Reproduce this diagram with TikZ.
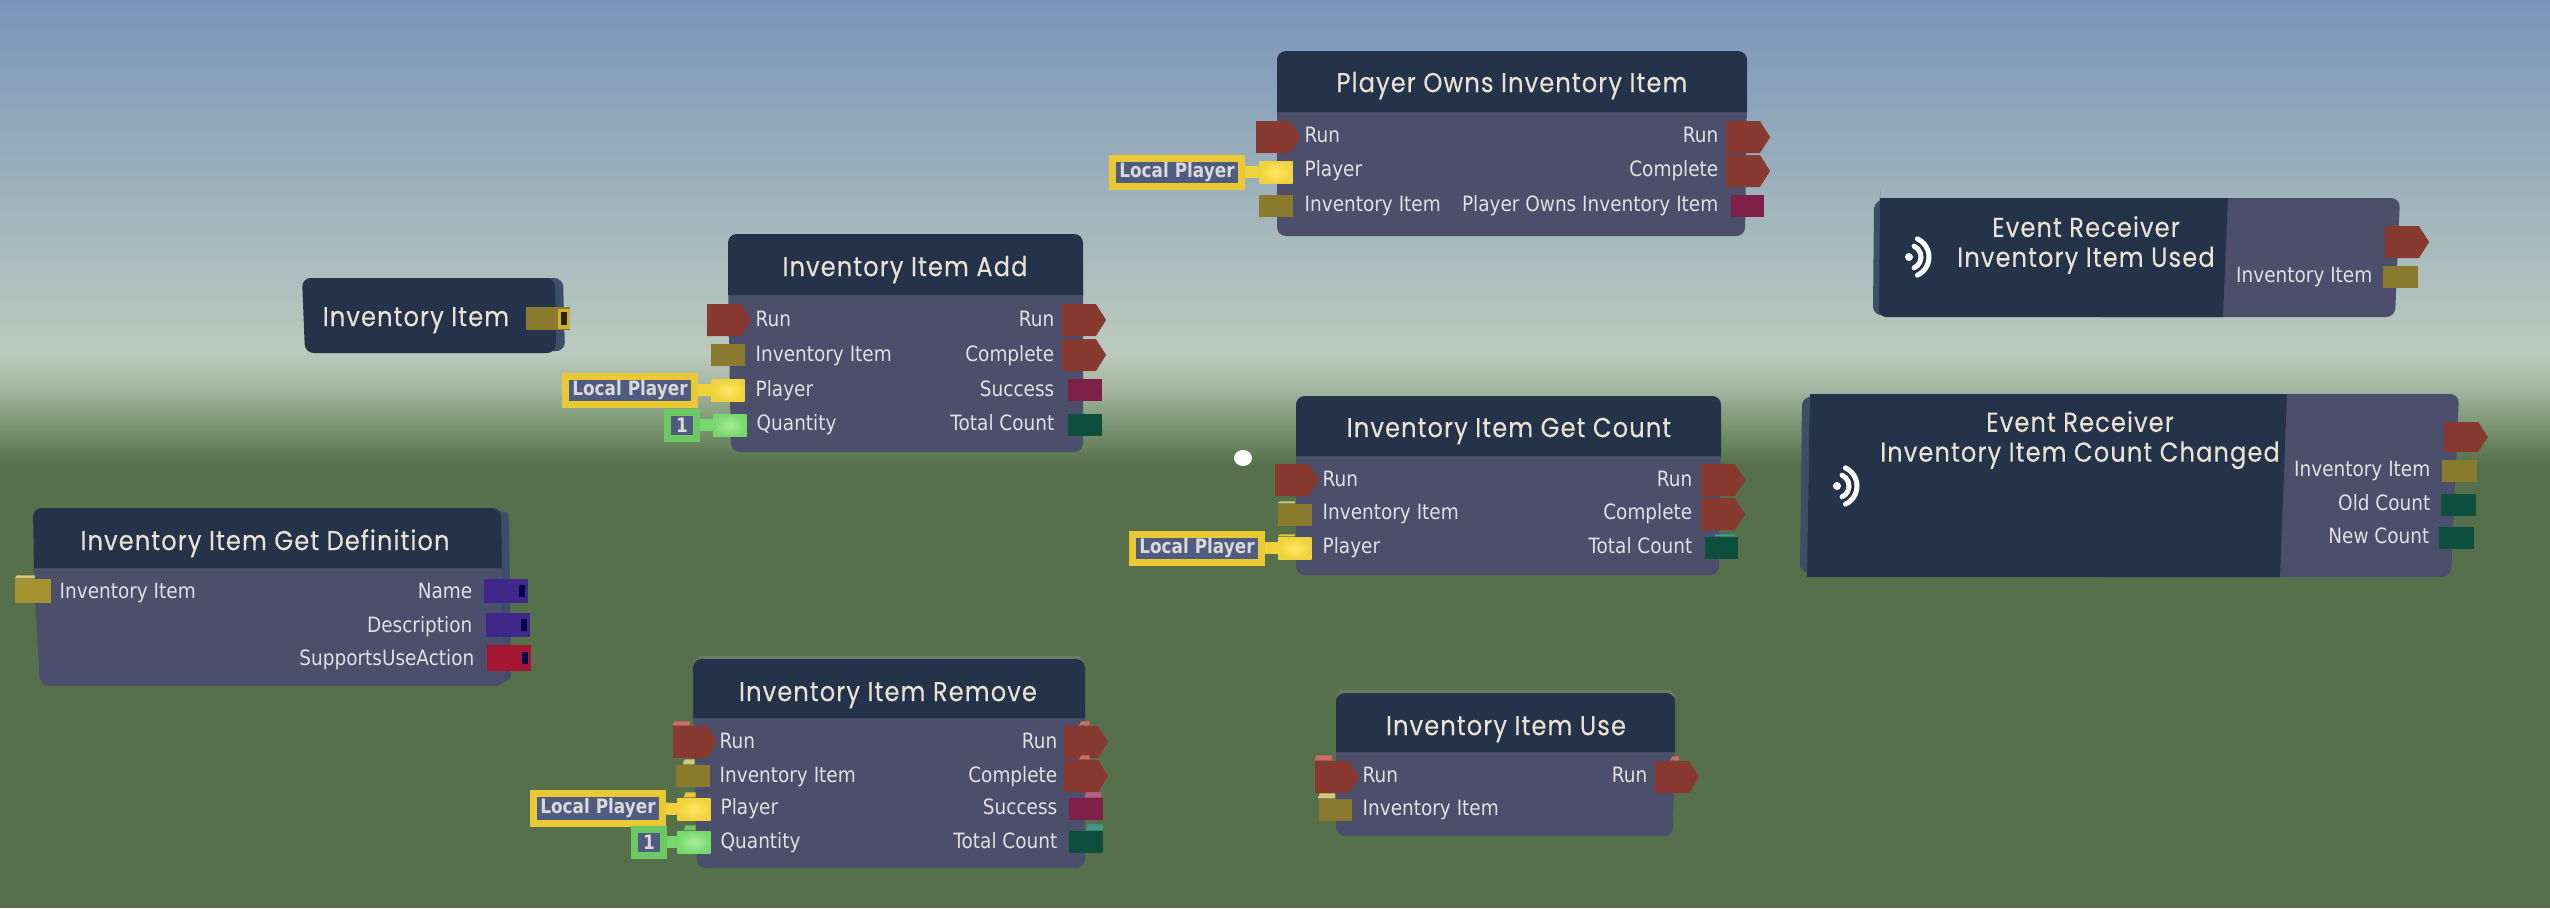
\documentclass[tikz,border=0pt]{standalone}
\usepackage{fontspec}
\usetikzlibrary{shapes.symbols,shapes.geometric,calc}
\newfontfamily\headfont[FakeStretch=0.88,LetterSpace=4,FakeBold=0.25]{Poppins}
\newfontfamily\portfont[FakeStretch=0.875]{DejaVu Sans}
\newfontfamily\chipfont[FakeStretch=0.85]{DejaVu Sans}
\definecolor{skytop}{HTML}{7A95BB}
\definecolor{skypale}{HTML}{BBCABD}
\definecolor{skylow}{HTML}{A3B5A0}
\definecolor{skymid}{HTML}{7F9A76}
\definecolor{ground}{HTML}{55704A}
\definecolor{headblue}{HTML}{24324A}
\definecolor{sideblue}{HTML}{3C4E68}
\definecolor{panelgrey}{HTML}{4B4F6B}
\definecolor{cream}{HTML}{E9E2D2}
\definecolor{execred}{HTML}{883A30}
\definecolor{execlit}{HTML}{D26A66}
\definecolor{itemolive}{HTML}{8A7A2E}
\definecolor{itemlit}{HTML}{D6C878}
\definecolor{boolpink}{HTML}{7E2048}
\definecolor{boollit}{HTML}{C25A88}
\definecolor{intgreen}{HTML}{0B4F3C}
\definecolor{intlit}{HTML}{3F9C8C}
\definecolor{strpurple}{HTML}{42278A}
\definecolor{chipyellow}{HTML}{EBC935}
\definecolor{portyellow}{HTML}{F0D23C}
\definecolor{portglow}{HTML}{FFE866}
\definecolor{chipgreen}{HTML}{6CC862}
\definecolor{portgreen}{HTML}{78D86E}
\definecolor{portmint}{HTML}{A6EE98}
\definecolor{chipfill}{HTML}{4F5C80}
\newcommand{\porttop}[5]{\fill[#2] ($(#1.north west)!#4!(#1.north east)$) -- ++(2,-#3) -- ($(#1.north west)!#5!(#1.north east)+(0,-#3)$) -- ($(#1.north west)!#5!(#1.north east)$) -- cycle;}
\newcommand{\portwin}[1]{\fill[black!70!blue] ($(#1.center)+(13,-6)$) rectangle ($(#1.center)+(19,6)$);}
\begin{document}
\begin{tikzpicture}[x=0.01cm,y=-0.01cm,
    panel/.style={fill=panelgrey, rounded corners=2.5pt},
    headbar/.style={fill=headblue},
    twolines/.style={font=\headfont\fontsize{7.8}{8.5}\selectfont, text=cream, align=center, inner sep=0pt},
    titlelabel/.style={twolines, text height=6.2pt, text depth=1pt},
    inlabel/.style={font=\portfont\fontsize{6}{7}\selectfont, text=white!88!black, anchor=west, inner sep=0pt, text height=4.8pt, text depth=1pt},
    outlabel/.style={inlabel, anchor=east},
    execport/.style={shape=signal, signal to=east, signal pointer angle=115, fill=execred, inner sep=0pt, minimum width=0.44cm, minimum height=0.32cm, xshift=-0.05cm},
    dataport/.style={shape=rectangle, inner sep=0pt, minimum width=0.33cm, minimum height=0.22cm},
    itemport/.style={dataport, fill=itemolive},
    boolport/.style={dataport, fill=boolpink},
    intport/.style={dataport, fill=intgreen},
    playerport/.style={dataport, shading=radial, inner color=portglow, outer color=portyellow},
    qtyport/.style={dataport, shading=radial, inner color=portmint, outer color=portgreen},
    chip/.style={shape=rectangle, fill=chipfill, draw=chipyellow, line width=0.07cm, inner sep=0pt, text=white!85!black, font=\chipfont\bfseries\fontsize{5.65}{7}\selectfont, minimum width=1.29cm, minimum height=0.28cm},
    numchip/.style={chip, draw=chipgreen, minimum width=0.29cm, minimum height=0.26cm},
    stub/.style={line width=0.12cm, draw=portyellow},
    numstub/.style={stub, draw=portgreen},
    sigdot/.style={shape=circle, fill=white, inner sep=0pt, minimum size=0.08cm},
    sigarc/.style={draw=white, line width=0.05cm, line cap=round},
  ]
    \useasboundingbox (0,0) rectangle (2550,908);
    \shade[top color=skytop, bottom color=skypale] (0,0) rectangle (2550,352);
    \shade[top color=skypale, bottom color=skylow] (0,352) rectangle (2550,390);
    \shade[top color=skylow, bottom color=skymid] (0,390) rectangle (2550,420);
    \shade[top color=skymid, bottom color=ground] (0,420) rectangle (2550,465);
    \fill[ground] (0,465) rectangle (2550,908);

    % player owns
    \fill[panel] (1277,100) -- (1277,236) -- (1745,236) -- (1747,100) -- cycle;
    \fill[headbar] (1277,112) [rounded corners=2.5pt] -- (1277,51) -- (1747,51) [sharp corners] -- (1747,112) -- cycle;
    \node[titlelabel] (ownstitle) at (1512,83) {Player Owns Inventory Item};
    \node[execport] (ownsrunin) at (1278,137) {};
    \node[inlabel] (ownsrunlbl) at (1304,136) {Run};
    \node[playerport] (ownsplayer) at (1276,172) {};
    \node[inlabel] (ownsplayerlbl) at (1304,170) {Player};
    \node[itemport] (ownsitem) at (1276,206) {};
    \node[inlabel] (ownsitemlbl) at (1304,205) {Inventory Item};
    \node[chip] (ownschip) at (1177,172) {Local Player};
    \draw[stub] (ownschip) -- (ownsplayer);
    \node[execport] (ownsrunout) at (1748,137) {};
    \node[outlabel] (ownsrunoutlbl) at (1719,136) {Run};
    \node[execport] (ownsdone) at (1748,171) {};
    \node[outlabel] (ownsdonelbl) at (1719,170) {Complete};
    \node[boolport] (ownsresult) at (1747,206) {};
    \node[outlabel] (ownsresultlbl) at (1719,205) {Player Owns Inventory Item};

    % item add
    \fill[panel] (728,280) -- (731,452) -- (1083,452) -- (1083,280) -- cycle;
    \fill[headbar] (728,295) [rounded corners=2.5pt] -- (728,234) -- (1083,234) [sharp corners] -- (1083,295) -- cycle;
    \node[titlelabel] (addtitle) at (905,267) {Inventory Item Add};
    \node[execport] (addrunin) at (729,320) {};
    \node[inlabel] (addrunlbl) at (755,320) {Run};
    \node[itemport] (additem) at (728,355) {};
    \node[inlabel] (additemlbl) at (755,355) {Inventory Item};
    \node[playerport] (addplayer) at (728,390) {};
    \node[inlabel] (addplayerlbl) at (755,390) {Player};
    \node[qtyport] (addqty) at (730,425) {};
    \node[inlabel] (addqtylbl) at (756,424) {Quantity};
    \node[chip] (addchip) at (630,390) {Local Player};
    \draw[stub] (addchip) -- (addplayer);
    \node[numchip] (addnum) at (682,425) {1};
    \draw[numstub] (addnum) -- (addqty);
    \node[execport] (addrunout) at (1084,320) {};
    \node[outlabel] (addrunoutlbl) at (1055,320) {Run};
    \node[execport] (adddone) at (1084,355) {};
    \node[outlabel] (adddonelbl) at (1055,355) {Complete};
    \node[boolport] (addok) at (1085,390) {};
    \node[outlabel] (addoklbl) at (1055,390) {Success};
    \node[intport] (addtotal) at (1085,425) {};
    \node[outlabel] (addtotallbl) at (1055,424) {Total Count};

    % item source
    \fill[sideblue, rounded corners=2.5pt] (340,278) -- (563,278) -- (565,351) -- (340,353) -- cycle;
    \fill[headbar, rounded corners=2.5pt] (302,278) -- (555,278) -- (556,353) -- (305,353) -- cycle;
    \node[titlelabel] (itemtitle) at (416,317) {Inventory Item};
    \node[itemport, minimum width=0.44cm, minimum height=0.23cm] (itemout) at (548,318) {};
    \fill[chipyellow!70!itemolive] (558,309) rectangle (570,329);
    \fill[black!70!itemolive] (561,312) rectangle (567,325);

    % get definition
    \fill[sideblue, rounded corners=1.5pt] (470,509) -- (509,512) -- (511,680) -- (490,686) -- cycle;
    \fill[panel] (33,560) -- (40,686) -- (504,686) -- (502,560) -- cycle;
    \fill[headbar] (34,568) [rounded corners=2.5pt] -- (33,508) -- (501,508) [sharp corners] -- (502,568) -- cycle;
    \node[titlelabel] (deftitle) at (265,541) {Inventory Item Get Definition};
    \node[itemport, minimum width=0.35cm, minimum height=0.24cm, fill=itemolive!70!chipyellow] (defitem) at (33,591) {};
    \porttop{defitem}{itemlit}{3}{0.0}{0.55}
    \node[inlabel] (defitemlbl) at (59,592) {Inventory Item};
    \node[dataport, fill=strpurple, minimum width=0.43cm, minimum height=0.24cm] (defname) at (506,591) {};
    \portwin{defname}
    \node[outlabel] (defnamelbl) at (473,592) {Name};
    \node[dataport, fill=strpurple, minimum width=0.43cm, minimum height=0.24cm] (defdesc) at (508,625) {};
    \portwin{defdesc}
    \node[outlabel] (defdesclbl) at (473,626) {Description};
    \node[dataport, fill=boolpink!70!red, minimum width=0.43cm, minimum height=0.26cm] (defuse) at (509,658) {};
    \portwin{defuse}
    \node[outlabel] (defuselbl) at (475,659) {SupportsUseAction};

    % item remove
    \fill[gray!55!ground] (700,656) -- (1080,656) -- (1085,662) -- (693,662) -- cycle;
    \fill[panel] (693,700) -- (697,868) -- (1085,868) -- (1085,700) -- cycle;
    \fill[headbar] (693,718) [rounded corners=2.5pt] -- (693,659) -- (1085,659) [sharp corners] -- (1085,718) -- cycle;
    \node[titlelabel] (remtitle) at (888,692) {Inventory Item Remove};
    \node[execport] (remrunin) at (695,742) {};
    \porttop{remrunin}{execlit}{4}{0.0}{0.5}
    \node[inlabel] (remrunlbl) at (719,742) {Run};
    \node[itemport] (remitem) at (693,776) {};
    \porttop{remitem}{itemlit}{5}{0.2}{0.55}
    \node[inlabel] (remitemlbl) at (719,776) {Inventory Item};
    \node[playerport] (remplayer) at (694,809) {};
    \porttop{remplayer}{chipyellow}{5}{0.2}{0.55}
    \node[inlabel] (remplayerlbl) at (720,808) {Player};
    \node[qtyport] (remqty) at (694,842) {};
    \porttop{remqty}{chipgreen}{5}{0.2}{0.55}
    \node[inlabel] (remqtylbl) at (720,842) {Quantity};
    \node[chip, minimum width=1.29cm, minimum height=0.30cm] (remchip) at (598,808) {Local Player};
    \draw[stub] (remchip) -- (remplayer);
    \node[numchip] (remnum) at (649,842) {1};
    \draw[numstub] (remnum) -- (remqty);
    \node[execport] (remrunout) at (1086,742) {};
    \porttop{remrunout}{execlit}{4}{0.45}{0.75}
    \node[outlabel] (remrunoutlbl) at (1058,742) {Run};
    \node[execport] (remdone) at (1086,776) {};
    \porttop{remdone}{execlit}{4}{0.45}{0.75}
    \node[outlabel] (remdonelbl) at (1058,776) {Complete};
    \node[boolport] (remok) at (1086,809) {};
    \porttop{remok}{boollit}{5}{0.45}{0.95}
    \node[outlabel] (remoklbl) at (1058,808) {Success};
    \node[intport] (remtotal) at (1086,842) {};
    \porttop{remtotal}{intlit}{6}{0.5}{1.0}
    \node[outlabel] (remtotallbl) at (1058,842) {Total Count};

    % get count
    \fill[panel] (1296,440) -- (1296,575) -- (1719,575) -- (1721,440) -- cycle;
    \fill[headbar] (1296,456) [rounded corners=2.5pt] -- (1296,396) -- (1721,396) [sharp corners] -- (1721,456) -- cycle;
    \node[titlelabel] (counttitle) at (1509,428) {Inventory Item Get Count};
    \node[shape=ellipse, fill=white, inner sep=0pt, minimum width=0.18cm, minimum height=0.16cm] (countdot) at (1243,458) {};
    \node[execport] (countrunin) at (1297,480) {};
    \node[inlabel] (countrunlbl) at (1322,480) {Run};
    \node[itemport] (countitem) at (1295,515) {};
    \porttop{countitem}{itemlit}{2}{0.0}{0.5}
    \node[inlabel] (countitemlbl) at (1322,513) {Inventory Item};
    \node[playerport] (countplayer) at (1295,548) {};
    \porttop{countplayer}{chipyellow}{2}{0.0}{0.5}
    \node[inlabel] (countplayerlbl) at (1322,547) {Player};
    \node[chip] (countchip) at (1197,548) {Local Player};
    \draw[stub] (countchip) -- (countplayer);
    \node[execport] (countrunout) at (1723,480) {};
    \node[outlabel] (countrunoutlbl) at (1693,480) {Run};
    \node[execport] (countdone) at (1723,514) {};
    \node[outlabel] (countdonelbl) at (1693,513) {Complete};
    \node[intport] (counttotal) at (1721,548) {};
    \porttop{counttotal}{intlit}{2}{0.3}{0.9}
    \node[outlabel] (counttotallbl) at (1693,547) {Total Count};

    % item use
    \fill[gray!55!ground] (1340,690) -- (1670,690) -- (1675,696) -- (1336,696) -- cycle;
    \fill[panel] (1336,740) -- (1336,836) -- (1673,836) -- (1675,740) -- cycle;
    \fill[headbar] (1336,752) [rounded corners=2.5pt] -- (1336,693) -- (1675,693) [sharp corners] -- (1675,752) -- cycle;
    \node[titlelabel] (usetitle) at (1506,726) {Inventory Item Use};
    \node[execport] (userunin) at (1337,777) {};
    \porttop{userunin}{execlit}{5}{0.0}{0.5}
    \node[inlabel] (userunlbl) at (1362,776) {Run};
    \node[itemport] (useitem) at (1335,810) {};
    \porttop{useitem}{itemlit}{5}{0.0}{0.5}
    \node[inlabel] (useitemlbl) at (1362,809) {Inventory Item};
    \node[execport] (userunout) at (1677,777) {};
    \porttop{userunout}{execlit}{4}{0.45}{0.7}
    \node[outlabel] (userunoutlbl) at (1648,776) {Run};

    % receiver used
    \fill[sideblue, rounded corners=1.5pt] (1884,198) -- (1874,204) -- (1873,312) -- (1884,317) -- cycle;
    \fill[panel] (2100,198) [rounded corners=2.5pt] -- (2400,198) -- (2395,317) [sharp corners] -- (2100,317) -- cycle;
    \fill[headbar] (2228,198) -- (1880,198) [rounded corners=2pt] -- (1880,198) -- (1879,317) [sharp corners] -- (2223,317) -- cycle;
    \node[twolines] (usedtitle) at (2086,245) {Event Receiver\\Inventory Item Used};
    \node[sigdot] (usedsig) at (1909,257) {};
    \draw[sigarc] ([shift={(-65:12)}]usedsig.center) arc[start angle=-65, end angle=65, radius=12];
    \draw[sigarc] ([shift={(-65:20)}]usedsig.center) arc[start angle=-65, end angle=65, radius=20];
    \node[execport] (usedrun) at (2407,242) {};
    \node[itemport, minimum width=0.35cm] (useditem) at (2400,277) {};
    \node[outlabel] (useditemlbl) at (2373,276) {Inventory Item};

    % receiver count changed
    \fill[sideblue, rounded corners=1.5pt] (1816,394) -- (1802,400) -- (1800,570) -- (1816,577) -- cycle;
    \fill[panel] (2100,394) [rounded corners=2.5pt] -- (2459,394) -- (2451,577) [sharp corners] -- (2100,577) -- cycle;
    \fill[headbar] (2287,394) -- (1810,394) -- (1807,577) -- (2280,577) -- cycle;
    \node[twolines] (changedtitle) at (2080,440) {Event Receiver\\Inventory Item Count Changed};
    \node[sigdot] (changedsig) at (1837,486) {};
    \draw[sigarc] ([shift={(-65:12)}]changedsig.center) arc[start angle=-65, end angle=65, radius=12];
    \draw[sigarc] ([shift={(-65:20)}]changedsig.center) arc[start angle=-65, end angle=65, radius=20];
    \node[execport, minimum height=0.30cm] (changedrun) at (2466,437) {};
    \node[itemport, minimum width=0.35cm] (changeditem) at (2459,471) {};
    \node[outlabel] (changeditemlbl) at (2431,470) {Inventory Item};
    \node[intport, minimum width=0.35cm] (changedold) at (2458,505) {};
    \node[outlabel] (changedoldlbl) at (2431,504) {Old Count};
    \node[intport, minimum width=0.35cm] (changednew) at (2456,538) {};
    \node[outlabel] (changednewlbl) at (2430,537) {New Count};

  \end{tikzpicture}
\end{document}
